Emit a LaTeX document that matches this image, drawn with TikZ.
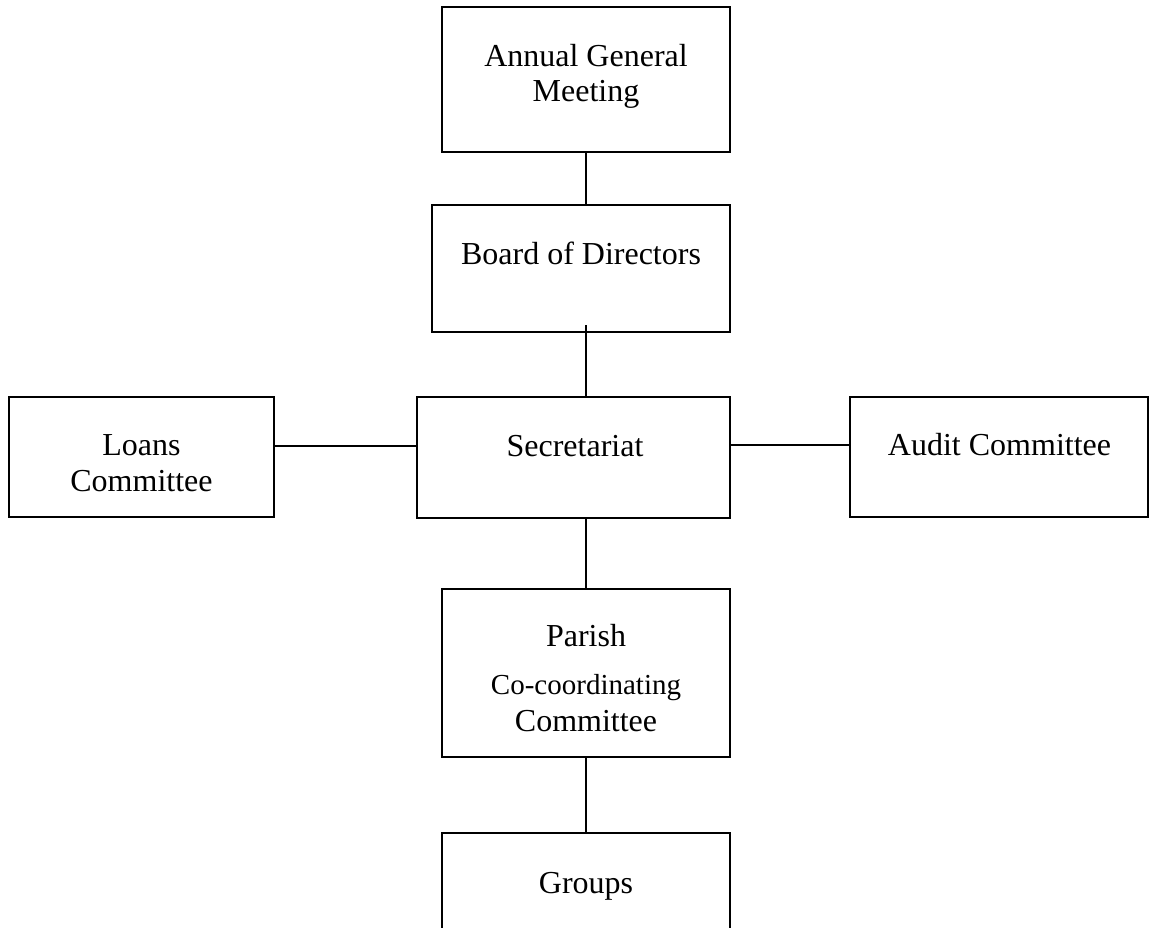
\documentclass[tikz,border=0pt]{standalone}
\usepackage{fontspec}
\setmainfont{Liberation Serif}
\tikzset{
  box/.style={draw, line width=1.5pt, inner sep=0pt, outer sep=0pt},
  txt/.style={anchor=base, align=center, inner sep=0pt, font=\fontsize{32}{35}\selectfont},
  link/.style={line width=1.5pt}
}
\begin{document}
\begin{tikzpicture}[x=1pt, y=-1pt]
\clip (0, 0) rectangle (1155, 927);

% boxes
\node[box, minimum width=288, minimum height=145] (agm) at (586, 79.5) {};
\node[box, minimum width=298, minimum height=127] (board) at (581, 268.5) {};
\node[box, minimum width=313, minimum height=121] (sec) at (573.5, 457.5) {};
\node[box, minimum width=265, minimum height=120] (loans) at (141.5, 457) {};
\node[box, minimum width=298, minimum height=120] (audit) at (999, 457) {};
\node[box, minimum width=288, minimum height=168] (parish) at (586, 673) {};
\node[box, minimum width=288, minimum height=150] (groups) at (586, 908) {};

% texts (base = last line)
\node[txt] (agmtext) at (586, 101) {Annual General\\Meeting};
\node[txt] (boardtext) at (581, 264) {Board of Directors};
\node[txt] (sectext) at (575, 456) {Secretariat};
\node[txt] (loanstext) at (141.5, 491) {Loans\\[1pt]Committee};
\node[txt] (audittext) at (999.5, 455) {Audit Committee};
\node[txt] (parishtext) at (586, 731) {Parish\\[13pt]{\fontsize{29}{35}\selectfont Co-coordinating}\\[2pt]Committee};
\node[txt] (groupstext) at (586, 893) {Groups};

% links
\draw[link] (agm.south) -- (agm.south |- board.north);
\draw[link] ([yshift=7pt]board.south -| agm) -- (sec.north -| agm);
\draw[link] (sec.south -| parish) -- (parish.north);
\draw[link] (parish.south) -- (groups.north);
\draw[link] ([yshift=11pt]loans.east) -- ([yshift=11pt]loans.east -| sec.west);
\draw[link] ([yshift=12.5pt]sec.east) -- ([yshift=12.5pt]sec.east -| audit.west);
\end{tikzpicture}
\end{document}
